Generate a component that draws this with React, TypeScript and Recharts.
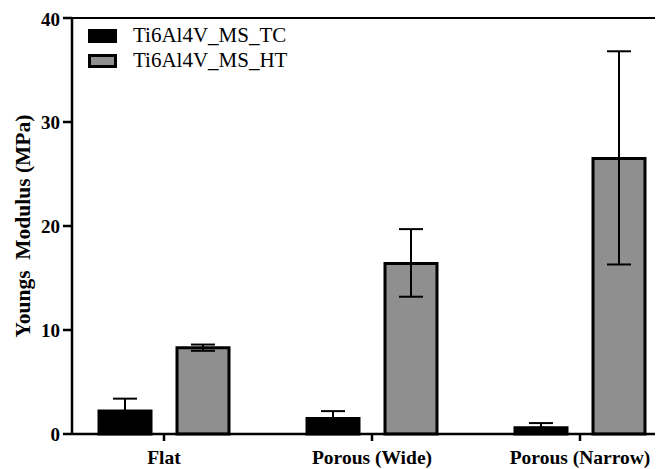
import React from 'react'
import {
  BarChart,
  Bar,
  XAxis,
  YAxis,
  ErrorBar,
  Legend,
  ReferenceLine,
} from 'recharts'

const categories = ['Flat', 'Porous (Wide)', 'Porous (Narrow)']
const seriesNames = ['Ti6Al4V_MS_TC', 'Ti6Al4V_MS_HT']
const tcMean = [2.2, 1.5, 0.6]
const tcUpper = [1.2, 0.7, 0.45]
const htMean = [8.3, 16.4, 26.5]
const htLower = [0.3, 3.2, 10.2]
const htUpper = [0.3, 3.3, 10.3]
const yTicks = [0, 10, 20, 30, 40]

const data = categories.map((name, i) => ({
  name,
  tc: tcMean[i],
  tcErr: [0, tcUpper[i]],
  ht: htMean[i],
  htErr: [htLower[i], htUpper[i]],
}))

const FONT = 'Liberation Serif, "Times New Roman", serif'

function LegendContent({ payload }: any) {
  const items = [...(payload || [])].sort(
    (a: any, b: any) => seriesNames.indexOf(a.value) - seriesNames.indexOf(b.value)
  )
  return (
    <div style={{ fontFamily: FONT, fontSize: 21, color: '#000', lineHeight: 1 }}>
      {items.map((p: any) => (
        <div key={p.value} style={{ display: 'flex', alignItems: 'center', height: 25 }}>
          <span
            style={{
              display: 'inline-block',
              width: 23,
              height: 8,
              background: p.color,
              border: '3px solid #000',
              marginRight: 16,
            }}
          />
          <span>{p.value}</span>
        </div>
      ))}
    </div>
  )
}

export default function App() {
  return (
    <div style={{ width: 655, height: 461, overflow: 'hidden' }}>
      <BarChart
        width={655}
        height={461}
        data={data}
        margin={{ top: 10, right: 0, bottom: 0, left: 0 }}
        barSize={52}
        barGap={26}
      >
        <XAxis
          dataKey="name"
          padding={{ left: -12, right: -21 }}
          height={35}
          stroke="#000"
          strokeWidth={2.5}
          tickSize={7}
          tickLine={{ stroke: '#000', strokeWidth: 2.5 }}
          tick={{ fontFamily: FONT, fontSize: 19.5, fontWeight: 'bold', fill: '#000' }}
          tickMargin={9}
        />
        <YAxis
          domain={[0, 40]}
          ticks={yTicks}
          width={64}
          stroke="#000"
          strokeWidth={2.5}
          tickSize={9}
          tickLine={{ stroke: '#000', strokeWidth: 2.5 }}
          tick={{ fontFamily: FONT, fontSize: 19, fontWeight: 'bold', fill: '#000' }}
          tickMargin={3}
          label={{
            value: 'Youngs\u00A0 Modulus (MPa)',
            angle: -90,
            position: 'center',
            dx: -18,
            style: {
              fontFamily: FONT,
              fontSize: 21.5,
              fontWeight: 'bold',
              fill: '#000',
              textAnchor: 'middle',
            },
          }}
        />
        <ReferenceLine y={40} stroke="#000" strokeWidth={2} />
        <Legend
          layout="vertical"
          align="center"
          verticalAlign="middle"
          wrapperStyle={{ left: 80, top: 15, width: 'auto' }}
          content={<LegendContent />}
        />
        <Bar
          dataKey="tc"
          name={seriesNames[0]}
          fill="#000"
          stroke="#000"
          strokeWidth={3}
          isAnimationActive={false}
        >
          <ErrorBar dataKey="tcErr" width={12} stroke="#000" strokeWidth={2} direction="y" />
        </Bar>
        <Bar
          dataKey="ht"
          name={seriesNames[1]}
          fill="#8f8f8f"
          stroke="#000"
          strokeWidth={3}
          isAnimationActive={false}
        >
          <ErrorBar dataKey="htErr" width={12} stroke="#000" strokeWidth={2} direction="y" />
        </Bar>
      </BarChart>
    </div>
  )
}
